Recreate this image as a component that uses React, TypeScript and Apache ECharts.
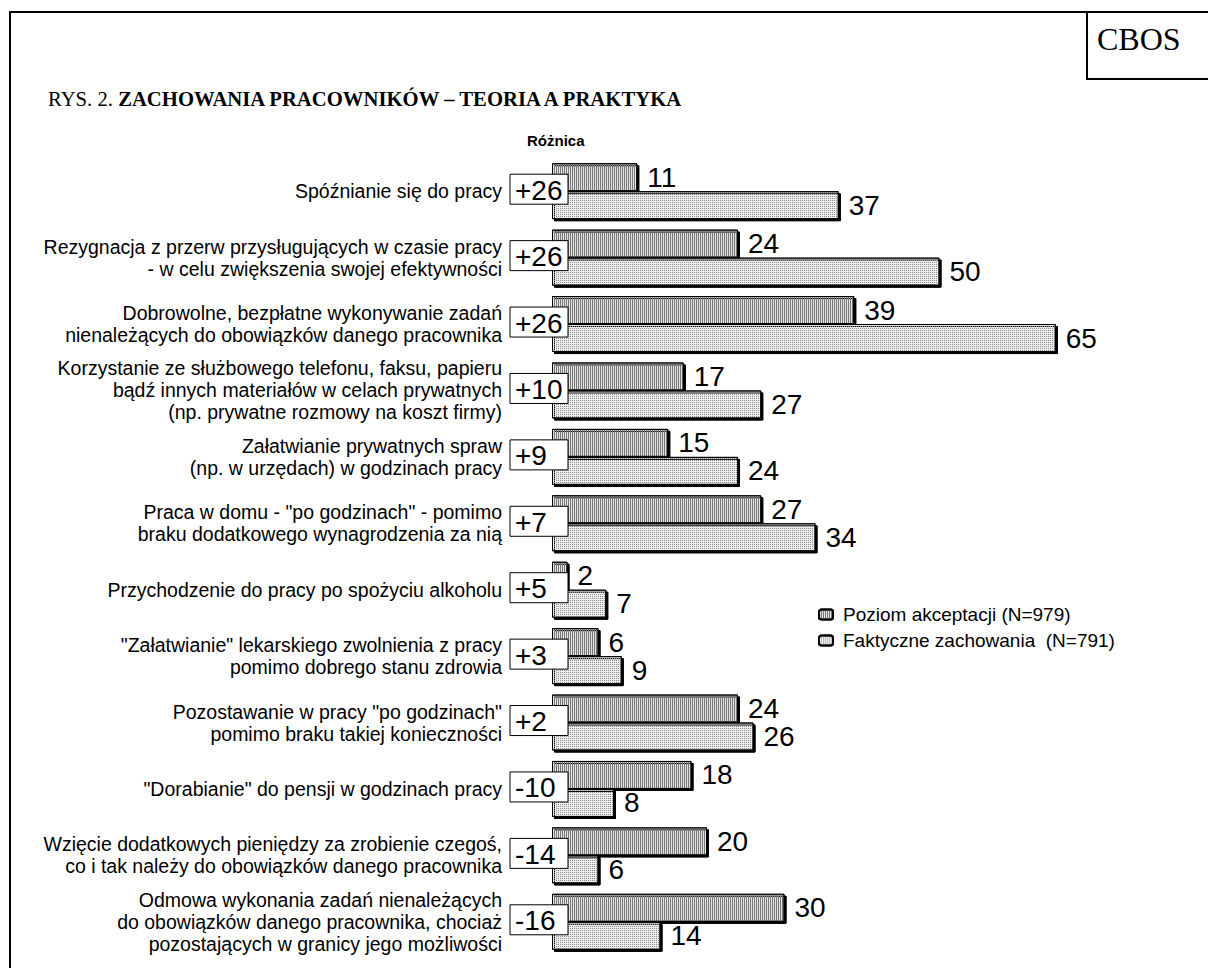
import React, { useEffect, useRef } from "react";
import * as echarts from "echarts";

const categories: string[] = [
  "Spóźnianie się do pracy",
  "Rezygnacja z przerw przysługujących w czasie pracy\n- w celu zwiększenia swojej efektywności",
  "Dobrowolne, bezpłatne wykonywanie zadań\nnienależących do obowiązków danego pracownika",
  "Korzystanie ze służbowego telefonu, faksu, papieru\nbądź innych materiałów w celach prywatnych\n(np. prywatne rozmowy na koszt firmy)",
  "Załatwianie prywatnych spraw\n(np. w urzędach) w godzinach pracy",
  "Praca w domu - \"po godzinach\" - pomimo\nbraku dodatkowego wynagrodzenia za nią",
  "Przychodzenie do pracy po spożyciu alkoholu",
  "\"Załatwianie\" lekarskiego zwolnienia z pracy\npomimo dobrego stanu zdrowia",
  "Pozostawanie w pracy \"po godzinach\"\npomimo braku takiej konieczności",
  "\"Dorabianie\" do pensji w godzinach pracy",
  "Wzięcie dodatkowych pieniędzy za zrobienie czegoś,\nco i tak należy do obowiązków danego pracownika",
  "Odmowa wykonania zadań nienależących\ndo obowiązków danego pracownika, chociaż\npozostających w granicy jego możliwości",
];

const acceptance: number[] = [11, 24, 39, 17, 15, 27, 2, 6, 24, 18, 20, 30];
const actual: number[] = [37, 50, 65, 27, 24, 34, 7, 9, 26, 8, 6, 14];
const differences: string[] = ["+26", "+26", "+26", "+10", "+9", "+7", "+5", "+3", "+2", "-10", "-14", "-16"];

const seriesNames: string[] = ["Poziom akceptacji (N=979)", "Faktyczne zachowania  (N=791)"];

const SANS = "'Liberation Sans', Arial, sans-serif";
const SERIF = "'Liberation Serif', 'Times New Roman', serif";

export default function App() {
  const ref = useRef<HTMLDivElement>(null);

  useEffect(() => {
    if (!ref.current) return;
    const chart = echarts.init(ref.current, null, { renderer: "svg" });

    const barBase = {
      type: "bar" as const,
      barWidth: 28,
      barGap: "0%",
      z: 2,
      label: {
        show: true,
        position: "right" as const,
        distance: 10,
        fontSize: 28,
        fontFamily: SANS,
        color: "#000",
      },
    };

    const option: any = {
      animation: false,
      backgroundColor: "#fff",
      textStyle: { fontFamily: SANS },
      grid: { left: 552, top: 158, width: 620, height: 797, containLabel: false },
      xAxis: {
        type: "value",
        min: 0,
        max: 80,
        show: false,
        splitLine: { show: false },
      },
      yAxis: {
        type: "category",
        inverse: true,
        data: categories,
        axisLine: { show: false },
        axisTick: { show: false },
        splitLine: { show: false },
        axisLabel: {
          margin: 50,
          fontSize: 19.5,
          lineHeight: 22,
          fontFamily: SANS,
          color: "#000",
          align: "right",
        },
      },
      legend: {
        data: seriesNames,
        orient: "vertical",
        left: 813,
        top: 600,
        itemWidth: 14,
        itemHeight: 10,
        itemGap: 7,
        selectedMode: false,
        textStyle: { fontSize: 19, fontFamily: SANS, color: "#000", padding: [0, 0, 0, 5] },
      },
      series: [
        {
          ...barBase,
          name: seriesNames[0],
          data: acceptance,
          itemStyle: {
            color: "#e4e4e4",
            borderColor: "#000",
            borderWidth: 1,
            shadowColor: "#000",
            shadowOffsetX: 2,
            shadowOffsetY: 2,
            shadowBlur: 0,
            decal: {
              symbol: "rect",
              symbolSize: 1,
              color: "#777",
              dashArrayX: [1, 1],
              dashArrayY: [4, 0],
              rotation: 0,
            },
          },
        },
        {
          ...barBase,
          name: seriesNames[1],
          data: actual,
          itemStyle: {
            color: "#eeeeee",
            borderColor: "#000",
            borderWidth: 1,
            shadowColor: "#000",
            shadowOffsetX: 2,
            shadowOffsetY: 2,
            shadowBlur: 0,
            decal: {
              symbol: "rect",
              symbolSize: 1,
              color: "#8c8c8c",
              dashArrayX: [1, 1],
              dashArrayY: [1, 1],
              rotation: 0,
            },
          },
        },
        {
          type: "custom",
          name: "diff",
          z: 10,
          clip: false,
          encode: { x: 0, y: 1 },
          data: differences.map((d, i) => [0, i, d]),
          renderItem: (params: any, api: any) => {
            const idx = api.value(1);
            const p = api.coord([0, idx]);
            const text = differences[params.dataIndex];
            return {
              type: "group",
              children: [
                {
                  type: "rect",
                  shape: { x: p[0] - 42, y: p[1] - 17, width: 58, height: 30 },
                  style: { fill: "#fff", stroke: "#000", lineWidth: 1 },
                },
                {
                  type: "text",
                  style: {
                    text,
                    x: p[0] - 37,
                    y: p[1] - 1,
                    verticalAlign: "middle",
                    align: "left",
                    fontSize: 28,
                    fontFamily: SANS,
                    fill: "#000",
                  },
                },
              ],
            };
          },
        },
      ],
      graphic: [
        { type: "line", shape: { x1: 10, y1: 12, x2: 10, y2: 968 }, style: { stroke: "#000", lineWidth: 2 } },
        { type: "line", shape: { x1: 9, y1: 12, x2: 1208, y2: 12 }, style: { stroke: "#000", lineWidth: 2 } },
        { type: "line", shape: { x1: 1087, y1: 12, x2: 1087, y2: 79 }, style: { stroke: "#000", lineWidth: 2 } },
        { type: "line", shape: { x1: 1086, y1: 79, x2: 1208, y2: 79 }, style: { stroke: "#000", lineWidth: 2 } },
        {
          type: "text",
          left: 1097,
          top: 23,
          style: { text: "CBOS", fontSize: 32, fontFamily: SERIF, fill: "#000" },
        },
        {
          type: "text",
          left: 48,
          top: 88,
          style: {
            text: "{a|RYS. 2. }{b|ZACHOWANIA PRACOWNIKÓW – TEORIA A PRAKTYKA}",
            rich: {
              a: { fontSize: 20.7, fontFamily: SERIF, fill: "#000", color: "#000" },
              b: { fontSize: 20.7, fontFamily: SERIF, fontWeight: "bold", fill: "#000", color: "#000" },
            },
          },
        },
        {
          type: "text",
          left: 527,
          top: 133,
          style: { text: "Różnica", fontSize: 15, fontWeight: "bold", fontFamily: SANS, fill: "#000" },
        },
      ],
    };

    chart.setOption(option);
    return () => chart.dispose();
  }, []);

  return (
    <div
      ref={ref}
      style={{ position: "fixed", left: 0, top: 0, width: 1208, height: 968, background: "#fff" }}
    />
  );
}
